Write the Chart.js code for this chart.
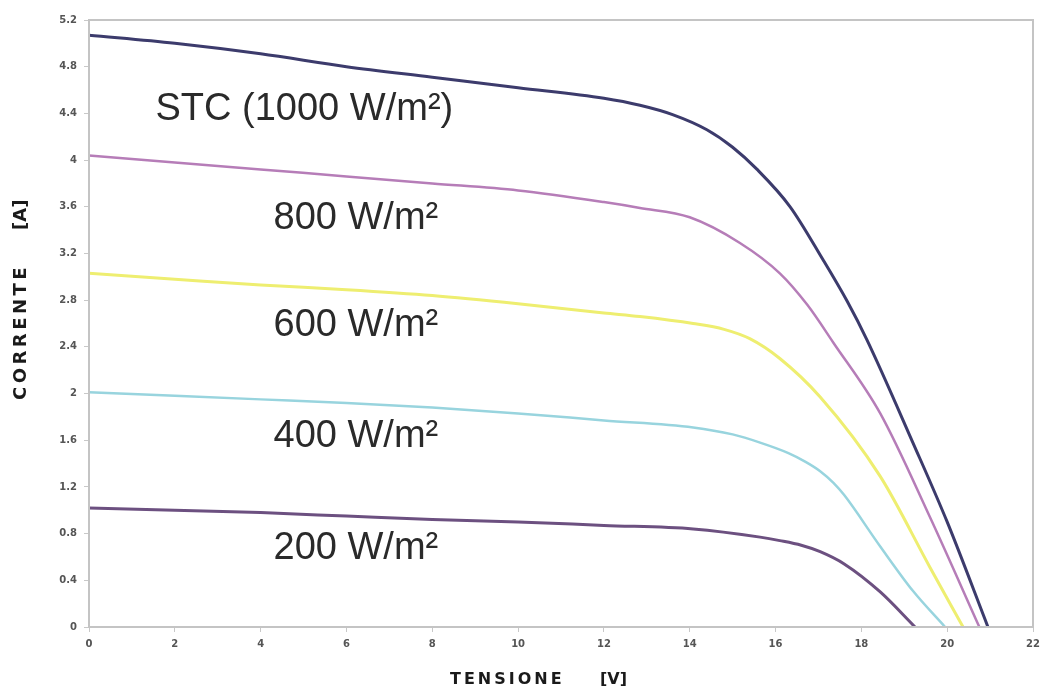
<!DOCTYPE html>
<html>
<head>
<meta charset="utf-8">
<script src="https://cdn.jsdelivr.net/npm/chart.js@4/dist/chart.umd.min.js"></script>
<style>
  html, body { margin: 0; padding: 0; background: #ffffff; }
  #wrap { width: 1051px; height: 699px; position: relative; }
</style>
</head>
<body>
<div id="wrap"><canvas id="c" width="1051" height="699"></canvas></div>
<script>
// ---- Data ----
const seriesNames = ['STC (1000 W/m²)', '800 W/m²', '600 W/m²', '400 W/m²', '200 W/m²'];

const stcV = [0, 2, 4, 6, 8, 10, 12, 12.84, 13.6, 14.4, 15.0, 15.57, 16.34, 17.1, 17.67, 18.13, 19.2, 20.0, 20.95];
const stcI = [5.07, 5.0, 4.91, 4.80, 4.71, 4.62, 4.53, 4.47, 4.39, 4.26, 4.11, 3.92, 3.60, 3.15, 2.79, 2.46, 1.58, 0.90, 0];

const w800V = [0, 2, 4, 6, 8, 10, 12, 12.84, 14.0, 15.17, 16.1, 16.74, 17.34, 18.44, 19.6, 20.75];
const w800I = [4.04, 3.98, 3.92, 3.86, 3.80, 3.74, 3.64, 3.59, 3.51, 3.29, 3.03, 2.76, 2.44, 1.83, 0.94, 0];

const w600V = [0, 2, 4, 6, 8, 10, 12, 12.84, 14.08, 14.8, 15.4, 16.1, 17.04, 18.44, 19.6, 20.37];
const w600I = [3.03, 2.98, 2.93, 2.89, 2.84, 2.77, 2.69, 2.66, 2.60, 2.55, 2.47, 2.30, 1.97, 1.29, 0.51, 0];

const w400V = [0, 2, 4, 6, 8, 10, 12, 14.08, 15.0, 15.64, 16.3, 16.7, 17.04, 17.35, 17.6, 18.44, 19.2, 19.95];
const w400I = [2.01, 1.98, 1.95, 1.92, 1.88, 1.83, 1.77, 1.71, 1.65, 1.58, 1.49, 1.415, 1.335, 1.235, 1.13, 0.69, 0.31, 0];

const w200V = [0, 2, 4, 6, 8, 10, 12, 14.08, 15.64, 16.1, 16.6, 17.04, 17.6, 18.44, 19.25];
const w200I = [1.02, 1.0, 0.98, 0.95, 0.92, 0.90, 0.87, 0.84, 0.77, 0.74, 0.70, 0.645, 0.54, 0.30, 0];

const xTicks = [0, 2, 4, 6, 8, 10, 12, 14, 16, 18, 20, 22];
const yTicks = [0, 0.4, 0.8, 1.2, 1.6, 2, 2.4, 2.8, 3.2, 3.6, 4, 4.4, 4.8, 5.2];

// annotation anchors in data units (voltage, current)
const labelV = [1.55, 4.3, 4.3, 4.3, 4.3];
const labelI = [4.34, 3.41, 2.49, 1.54, 0.58];

// ---- Styles ----
const colors = ['#3c3b6c', '#b67db8', '#eeee70', '#98d4de', '#6c5080'];
const widths = [3, 2.5, 3, 2.5, 3];

function pts(xs, ys) { return xs.map((x, i) => ({ x: x, y: ys[i] })); }
const seriesData = [pts(stcV, stcI), pts(w800V, w800I), pts(w600V, w600I), pts(w400V, w400I), pts(w200V, w200I)];

const datasets = seriesData.map((d, i) => ({
  label: seriesNames[i],
  data: d,
  borderColor: colors[i],
  backgroundColor: colors[i],
  borderWidth: widths[i],
  pointRadius: 0,
  showLine: true,
  fill: false,
  cubicInterpolationMode: 'monotone'
}));

const decorPlugin = {
  id: 'decor',
  afterDatasetsDraw(chart) {
    const ctx = chart.ctx;
    const a = chart.chartArea;
    const xs = chart.scales.x, ys = chart.scales.y;
    ctx.save();
    // plot frame
    ctx.strokeStyle = '#c4c4c4';
    ctx.lineWidth = 2;
    ctx.strokeRect(a.left, a.top, a.right - a.left, a.bottom - a.top);
    // annotations
    ctx.fillStyle = '#2a2a2a';
    ctx.font = '38px "Liberation Sans", Arial, sans-serif';
    ctx.textAlign = 'left';
    ctx.textBaseline = 'alphabetic';
    for (let i = 0; i < seriesNames.length; i++) {
      ctx.fillText(seriesNames[i], xs.getPixelForValue(labelV[i]), ys.getPixelForValue(labelI[i]));
    }
    // axis titles
    ctx.fillStyle = '#1a1a1a';
    ctx.textBaseline = 'middle';
    ctx.textAlign = 'left';
    ctx.font = 'bold 16px "DejaVu Sans", sans-serif';
    if (ctx.letterSpacing !== undefined) ctx.letterSpacing = '3px';
    ctx.fillText('TENSIONE', 450, 680);
    if (ctx.letterSpacing !== undefined) ctx.letterSpacing = '0px';
    ctx.fillText('[V]', 600, 680);
    ctx.save();
    ctx.translate(21, 0);
    ctx.rotate(-Math.PI / 2);
    ctx.font = 'bold 18px "DejaVu Sans", sans-serif';
    if (ctx.letterSpacing !== undefined) ctx.letterSpacing = '3.5px';
    ctx.fillText('CORRENTE', -400, 0);
    if (ctx.letterSpacing !== undefined) ctx.letterSpacing = '0px';
    ctx.fillText('[A]', -230, 0);
    ctx.restore();
    ctx.restore();
  }
};

new Chart(document.getElementById('c'), {
  type: 'scatter',
  data: { datasets: datasets },
  options: {
    responsive: false,
    animation: false,
    layout: { padding: { left: 0, right: 18, top: 20, bottom: 0 } },
    plugins: { legend: { display: false }, tooltip: { enabled: false } },
    scales: {
      x: {
        type: 'linear',
        min: 0, max: 22,
        afterBuildTicks: (s) => { s.ticks = xTicks.map(v => ({ value: v })); },
        afterFit: (s) => { s.height = 72; },
        grid: { drawOnChartArea: false, drawTicks: true, tickLength: 5, color: '#c8c8c8' },
        border: { display: true, color: '#c4c4c4', width: 2 },
        ticks: { color: '#555', font: { family: '"DejaVu Sans", sans-serif', size: 10, weight: 'bold' }, padding: 6, maxRotation: 0, autoSkip: false }
      },
      y: {
        type: 'linear',
        min: 0, max: 5.2,
        afterBuildTicks: (s) => { s.ticks = yTicks.map(v => ({ value: v })); },
        afterFit: (s) => { s.width = 89; },
        grid: { drawOnChartArea: false, drawTicks: true, tickLength: 5, color: '#c8c8c8' },
        border: { display: true, color: '#c4c4c4', width: 2 },
        ticks: { color: '#555', font: { family: '"DejaVu Sans", sans-serif', size: 10, weight: 'bold' }, padding: 7, autoSkip: false,
          callback: (v) => String(+(+v).toFixed(1)) }
      }
    }
  },
  plugins: [decorPlugin]
});
</script>
</body>
</html>
